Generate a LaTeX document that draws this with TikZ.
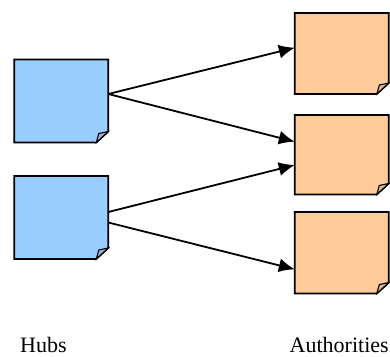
\documentclass[tikz,border=0pt]{standalone}
\usepackage{fontspec}
\setmainfont{Liberation Serif}
\usetikzlibrary{arrows.meta}
\tikzset{
  paperbox/.style={minimum width=94pt,minimum height=82pt,inner sep=0pt,outer sep=0pt},
  edgeline/.style={line width=1.7pt},
  link/.style={line width=1.8pt,-{Latex[length=16pt,width=14pt]}},
  caption/.style={inner sep=0pt,anchor=base west,font=\fontsize{22}{24}\selectfont}
}
\definecolor{hubblue}{RGB}{153,204,255}
\definecolor{authpeach}{RGB}{255,204,153}
\newcommand{\paperat}[5]{%
  \node[paperbox,minimum height=#5pt] (#1) at (#2pt,-#3pt) {};
  \draw[edgeline,fill=#4,line join=miter]
    (#1.north west) -- (#1.north east) -- ([yshift=11pt]#1.south east)
    -- ([xshift=-12pt]#1.south east) -- (#1.south west) -- cycle;
  \draw[line width=1.1pt,fill=#4!70!gray,line join=miter]
    ([yshift=11pt]#1.south east) -- ([shift={(-9.5pt,9pt)}]#1.south east)
    -- ([xshift=-12pt]#1.south east) -- cycle;
}
\begin{document}
\begin{tikzpicture}[x=1pt,y=1pt]
\useasboundingbox (0,0) rectangle (390,-356);
\fill[white] (0,0) rectangle (390,-356);
\paperat{hubA}{61.3}{101}{hubblue}{83}
\paperat{hubB}{61.3}{217.5}{hubblue}{83}
\paperat{authA}{341.8}{53.5}{authpeach}{81}
\paperat{authB}{341.8}{154.7}{authpeach}{79.5}
\paperat{authC}{341.8}{252.8}{authpeach}{81.5}
\coordinate (hubAout) at ([yshift=7pt]hubA.east);
\draw[link] (hubAout) -- ([yshift=5.8pt]authA.west);
\draw[link] (hubAout) -- ([yshift=13pt]authB.west);
\draw[link] ([yshift=5.5pt]hubB.east) -- ([yshift=-10.3pt]authB.west);
\draw[link] ([yshift=-5pt]hubB.east) -- ([yshift=-16.5pt]authC.west);
\node[caption] (hubs) at (20pt,-352.5pt) {Hubs};
\node[caption] (auths) at (289.5pt,-352.5pt) {Authorities};
\end{tikzpicture}
\end{document}
